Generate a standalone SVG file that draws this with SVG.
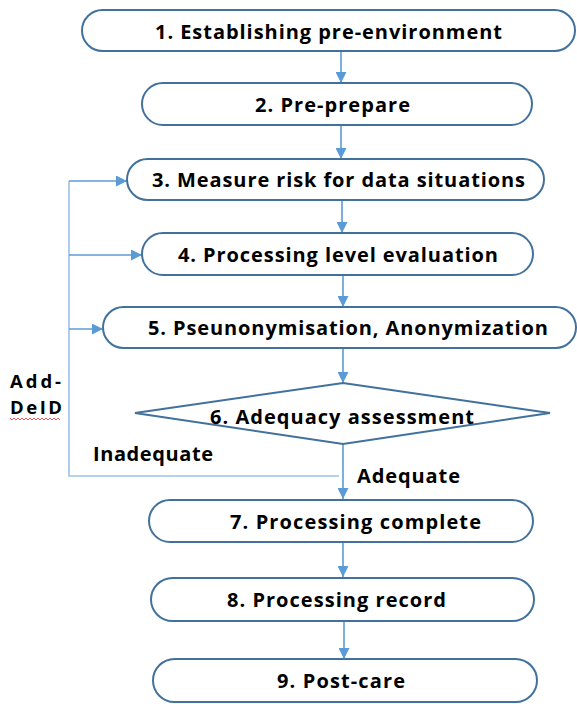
<svg xmlns="http://www.w3.org/2000/svg" width="577" height="704" viewBox="0 0 577 704">
<style>
.box{fill:#fff;stroke:#41719C;stroke-width:2}
.t{font-family:"Open Sans","Noto Sans",sans-serif;font-weight:700;font-size:20px;fill:#000}
.s{font-size:18.5px}
.c{fill:none;stroke:#5B9BD5;stroke-width:1.6}
.fb{fill:none;stroke:#9DC3E6;stroke-width:1.6}
</style>
<defs>
<marker id="ah" viewBox="0 0 10 10" refX="10" refY="5" markerWidth="11" markerHeight="11" markerUnits="userSpaceOnUse" orient="auto">
<path d="M0,0 L10,5 L0,10 Z" fill="#5B9BD5"/>
</marker>
</defs>
<rect width="577" height="704" fill="#fff"/>
<g id="connectors">
<line class="c" x1="341" y1="51" x2="341" y2="83" marker-end="url(#ah)"/>
<line class="c" x1="341" y1="125" x2="341" y2="159" marker-end="url(#ah)"/>
<line class="c" x1="342" y1="200" x2="342" y2="233" marker-end="url(#ah)"/>
<line class="c" x1="343" y1="275" x2="343" y2="307" marker-end="url(#ah)"/>
<line class="c" x1="343" y1="348" x2="343" y2="383" marker-end="url(#ah)"/>
<line class="c" x1="343" y1="444" x2="343" y2="499" marker-end="url(#ah)"/>
<line class="c" x1="343" y1="542" x2="343" y2="577" marker-end="url(#ah)"/>
<line class="c" x1="344" y1="621" x2="344" y2="659" marker-end="url(#ah)"/>
<polyline class="fb" points="339,476 69,476 69,181"/>
<line class="c" x1="69" y1="181" x2="127" y2="181" marker-end="url(#ah)"/>
<line class="c" x1="69" y1="255" x2="142" y2="255" marker-end="url(#ah)"/>
<line class="c" x1="69" y1="329" x2="103" y2="329" marker-end="url(#ah)"/>
</g>
<g id="n1"><rect class="box" x="82" y="10" width="493" height="41" rx="20.5"/><text class="t" x="155" y="38.5" textLength="347">1. Establishing pre-environment</text></g>
<g id="n2"><rect class="box" x="142" y="83" width="390" height="42" rx="21"/><text class="t" x="255" y="111.5" textLength="155">2. Pre-prepare</text></g>
<g id="n3"><rect class="box" x="127" y="159" width="417" height="41" rx="20.5"/><text class="t" x="152" y="187" textLength="373">3. Measure risk for data situations</text></g>
<g id="n4"><rect class="box" x="142" y="233" width="391" height="42" rx="21"/><text class="t" x="178" y="261.5" textLength="320">4. Processing level evaluation</text></g>
<g id="n5"><rect class="box" x="103" y="307" width="473" height="41" rx="20.5"/><text class="t" x="148" y="335" textLength="400">5. Pseunonymisation, Anonymization</text></g>
<g id="n6"><polygon class="box" points="343,383 550,413 343,444 135,413"/><text class="t" x="210" y="424" textLength="264">6. Adequacy assessment</text></g>
<g id="n7"><rect class="box" x="149" y="500" width="384" height="42" rx="21"/><text class="t" x="230" y="528.5" textLength="251">7. Processing complete</text></g>
<g id="n8"><rect class="box" x="151" y="578" width="383" height="43" rx="21.5"/><text class="t" x="227" y="606.5" textLength="219">8. Processing record</text></g>
<g id="n9"><rect class="box" x="153" y="659" width="384" height="43" rx="21.5"/><text class="t" x="277" y="688" textLength="128">9. Post-care</text></g>
<g id="labels">
<text class="t s" x="10" y="388" textLength="51">Add-</text>
<text class="t s" x="10" y="414" textLength="52">DeID</text>
<path d="M10,418 l2,2 l2,-2 l2,2 l2,-2 l2,2 l2,-2 l2,2 l2,-2 l2,2 l2,-2 l2,2 l2,-2 l2,2 l2,-2 l2,2 l2,-2 l2,2 l2,-2 l2,2 l2,-2 l2,2 l2,-2 l2,2 l2,-2 l2,2" fill="none" stroke="#E03030" stroke-width="0.8"/>
<text class="t" x="93" y="461" textLength="120">Inadequate</text>
<text class="t" x="357" y="483" textLength="103">Adequate</text>
</g>
</svg>
